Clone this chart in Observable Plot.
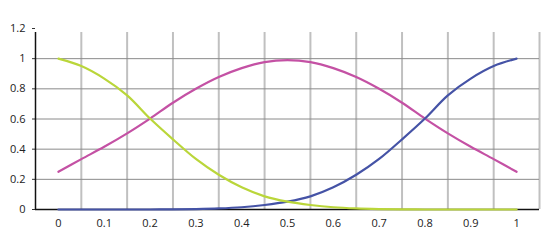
<!DOCTYPE html>
<html><head><meta charset="utf-8">
<script src="https://cdn.jsdelivr.net/npm/d3@7"></script>
<script src="https://cdn.jsdelivr.net/npm/@observablehq/plot@0.6"></script>
<style>html,body{margin:0;padding:0;background:#fff}svg{display:block}</style>
</head><body><div id="chart"></div>
<script>
const xValues = [0, 0.05, 0.1, 0.15, 0.2, 0.25, 0.3, 0.35, 0.4, 0.45, 0.5, 0.55, 0.6, 0.65, 0.7, 0.75, 0.8, 0.85, 0.9, 0.95, 1];
const greenValues = [1, 0.951, 0.868, 0.757, 0.603, 0.465, 0.335, 0.23, 0.147, 0.087, 0.052, 0.03, 0.015, 0.007, 0.003, 0.001, 0, 0, 0, 0, 0];
const magentaValues = [0.25, 0.334, 0.416, 0.505, 0.603, 0.708, 0.8, 0.878, 0.937, 0.977, 0.99, 0.977, 0.937, 0.878, 0.8, 0.708, 0.603, 0.505, 0.416, 0.334, 0.25];
const blueValues = [0, 0, 0, 0, 0, 0.001, 0.003, 0.007, 0.015, 0.03, 0.052, 0.087, 0.147, 0.23, 0.335, 0.465, 0.603, 0.757, 0.868, 0.951, 1];
const xTickLabels = [0, 0.1, 0.2, 0.3, 0.4, 0.5, 0.6, 0.7, 0.8, 0.9, 1];
const yTickLabels = [0, 0.2, 0.4, 0.6, 0.8, 1, 1.2];
const xGrid = [0.05, 0.15, 0.25, 0.35, 0.45, 0.55, 0.65, 0.75, 0.85, 0.95, 1.05];
const yGrid = [0.2, 0.4, 0.6, 0.8, 1];

const series = [
  {name: "magenta", values: magentaValues, color: "#c451a4"},
  {name: "blue", values: blueValues, color: "#4553a6"},
  {name: "green", values: greenValues, color: "#bad63a"}
];
const rows = series.flatMap(s => xValues.map((x, i) => ({series: s.name, x, y: s.values[i]})));

const chart = Plot.plot({
  width: 558,
  height: 245,
  marginLeft: 35,
  marginRight: 19,
  marginTop: 28,
  marginBottom: 36,
  style: {fontFamily: "'Open Sans', sans-serif", fontSize: "11px", color: "#222", background: "#fff"},
  x: {domain: [-0.05, 1.05], label: null},
  y: {domain: [0, 1.2], label: null},
  marks: [
    Plot.ruleX(xGrid, {y1: 0, y2: 1.2, stroke: "#c0c0c0", strokeWidth: 2, insetBottom: -4}),
    Plot.ruleY(yGrid, {stroke: "#8a8a8a", strokeWidth: 1}),
    Plot.axisX(xTickLabels, {tickSize: 0, tickPadding: 10, tickFormat: d => String(d), fill: "#222", label: null}),
    Plot.axisY(yTickLabels, {tickSize: 3, tickPadding: 7, stroke: "#333", tickFormat: d => String(d), fill: "#222", label: null}),
    Plot.ruleX([-0.05], {y1: 0, y2: 1.2, stroke: "#111", strokeWidth: 1.5, insetBottom: -4}),
    Plot.ruleY([0], {stroke: "#111", strokeWidth: 1.5}),
    ...series.map(s => Plot.line(rows.filter(r => r.series === s.name), {x: "x", y: "y", stroke: s.color, strokeWidth: 2.2, curve: "catmull-rom"}))
  ]
});
document.getElementById("chart").append(chart);
</script>
</body></html>
